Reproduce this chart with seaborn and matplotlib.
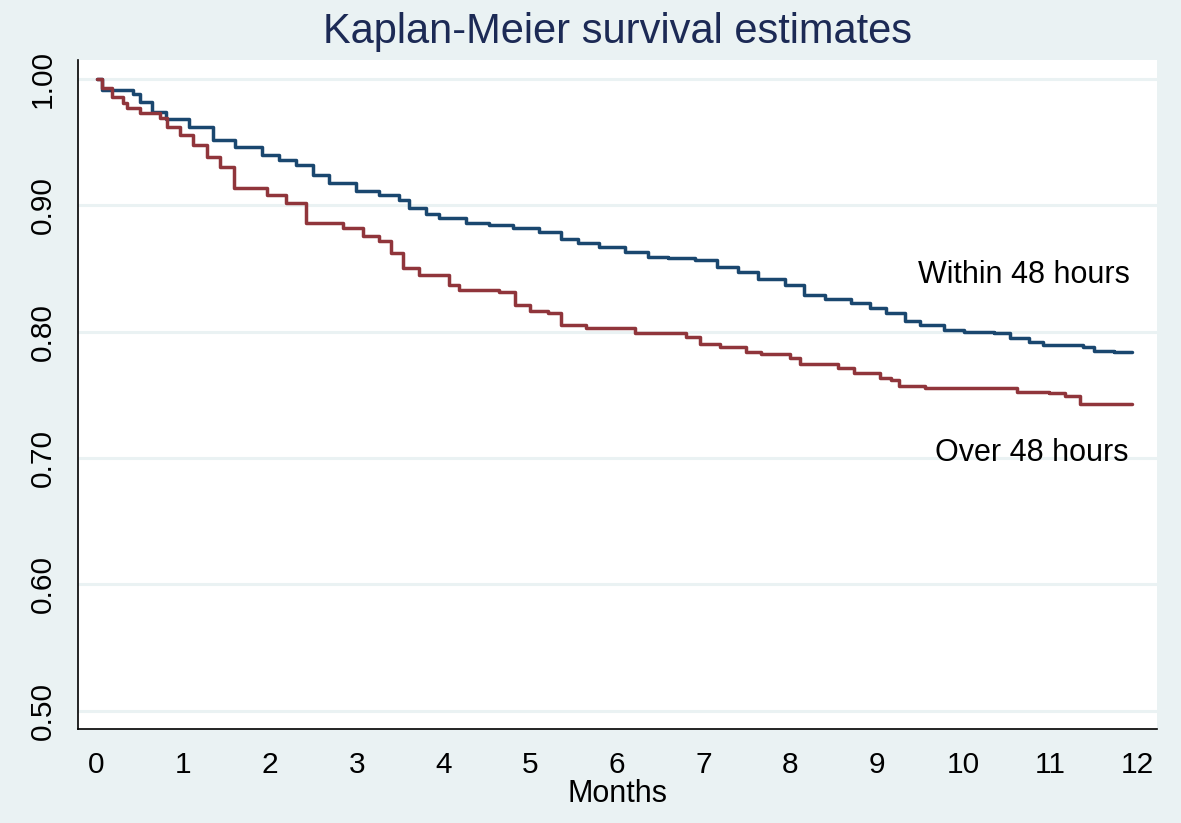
import pandas as pd
import matplotlib
matplotlib.use("Agg")
import matplotlib.pyplot as plt
import seaborn as sns

# step points (time in months, survival estimate)
within_t = [0.0, 0.06, 0.42, 0.5, 0.64, 0.8, 1.07, 1.34, 1.6, 1.91, 2.1, 2.3, 2.5, 2.68,
            2.99, 3.26, 3.49, 3.6, 3.8, 3.95, 4.26, 4.52, 4.8, 5.1, 5.36, 5.55, 5.79,
            6.1, 6.36, 6.59, 6.9, 7.16, 7.4, 7.63, 7.94, 8.16, 8.4, 8.7, 8.92, 9.1,
            9.32, 9.5, 9.77, 10.0, 10.35, 10.53, 10.75, 10.92, 11.38, 11.5, 11.73, 11.94]
within_s = [1.0, 0.991, 0.988, 0.982, 0.974, 0.968, 0.962, 0.952, 0.946, 0.94, 0.936,
            0.932, 0.924, 0.918, 0.911, 0.908, 0.904, 0.898, 0.893, 0.89, 0.886, 0.884,
            0.882, 0.879, 0.873, 0.870, 0.867, 0.863, 0.859, 0.858, 0.857, 0.851, 0.847,
            0.842, 0.837, 0.829, 0.826, 0.823, 0.819, 0.815, 0.808, 0.805, 0.801, 0.8,
            0.799, 0.795, 0.792, 0.789, 0.788, 0.785, 0.784, 0.784]

over_t = [0.0, 0.06, 0.18, 0.3, 0.35, 0.5, 0.73, 0.81, 0.96, 1.11, 1.27, 1.42, 1.59,
          1.96, 2.19, 2.42, 2.84, 3.07, 3.26, 3.4, 3.53, 3.72, 4.06, 4.18, 4.64, 4.83,
          5.0, 5.21, 5.36, 5.64, 6.21, 6.8, 6.96, 7.19, 7.49, 7.66, 8.0, 8.11, 8.55,
          8.74, 9.04, 9.16, 9.26, 9.55, 10.61, 10.99, 11.17, 11.34, 11.94]
over_s = [1.0, 0.993, 0.986, 0.981, 0.977, 0.973, 0.969, 0.962, 0.956, 0.948, 0.938,
          0.93, 0.914, 0.908, 0.902, 0.886, 0.882, 0.876, 0.872, 0.862, 0.85, 0.845,
          0.837, 0.833, 0.831, 0.821, 0.816, 0.815, 0.805, 0.803, 0.799, 0.796, 0.79,
          0.788, 0.784, 0.782, 0.779, 0.774, 0.771, 0.767, 0.763, 0.762, 0.757, 0.755,
          0.752, 0.751, 0.749, 0.743, 0.743]

y_ticks = [0.5, 0.6, 0.7, 0.8, 0.9, 1.0]
x_ticks = list(range(13))

bg = "#EAF2F3"
blue = "#1A476F"
red = "#90353B"

sns.set_style("white")
plt.rcParams["font.family"] = ["Liberation Sans", "DejaVu Sans"]
plt.rcParams["text.color"] = "black"

df = pd.concat([
    pd.DataFrame({"Months": within_t, "Survival": within_s, "group": "Within 48 hours"}),
    pd.DataFrame({"Months": over_t, "Survival": over_s, "group": "Over 48 hours"}),
])

fig = plt.figure(figsize=(11.81, 8.23), dpi=100, facecolor=bg)
ax = fig.add_axes([78 / 1181, 1 - 729 / 823, (1157 - 78) / 1181, (729 - 60) / 823])
ax.set_facecolor("white")

for y in y_ticks:
    ax.axhline(y, color=bg, lw=2.2, zorder=0)

sns.lineplot(data=df, x="Months", y="Survival", hue="group",
             palette={"Within 48 hours": blue, "Over 48 hours": red},
             estimator=None, sort=False, drawstyle="steps-post", lw=2.5,
             legend=False, ax=ax)

ax.set_xlim(-0.2145, 12.23)
ax.set_ylim(0.4854, 1.015)
ax.set_xticks(x_ticks)
ax.set_yticks(y_ticks)
ax.set_yticklabels([f"{v:.2f}" for v in y_ticks], rotation=90, va="center")
ax.tick_params(axis="both", direction="out", length=8, width=1.2, colors="black",
               labelsize=21.5, pad=7)
ax.tick_params(axis="x", pad=8)

for side in ["top", "right"]:
    ax.spines[side].set_visible(False)
for side in ["left", "bottom"]:
    ax.spines[side].set_color("black")
    ax.spines[side].set_linewidth(1.2)

ax.set_xlabel("Months", fontsize=22, labelpad=0, color="black")
ax.set_ylabel("")
ax.text(10.70, 0.845, "Within 48 hours", fontsize=22, ha="center", va="center")
ax.text(10.78, 0.704, "Over 48 hours", fontsize=22, ha="center", va="center")
fig.text(0.523, 1 - 32 / 823, "Kaplan-Meier survival estimates", fontsize=30,
         color="#1C2A55", ha="center", va="center")

fig.savefig("out.png", dpi=100, facecolor=bg)
